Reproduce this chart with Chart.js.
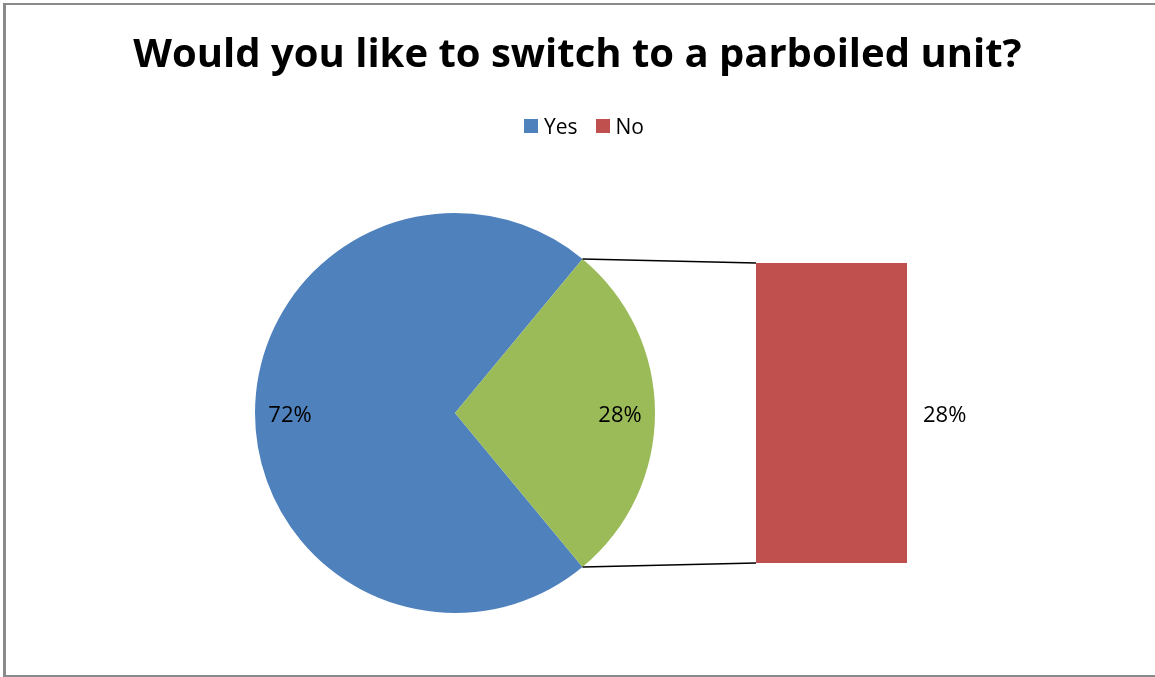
<!DOCTYPE html>
<html>
<head>
<meta charset="utf-8">
<script src="https://cdn.jsdelivr.net/npm/chart.js@4/dist/chart.umd.min.js"></script>
<style>
  html, body { margin: 0; padding: 0; background: #fff; overflow: hidden; }
  #wrap { position: relative; width: 1155px; height: 677px; overflow: hidden; font-family: "Open Sans", "Liberation Sans", sans-serif; }
  #frame { position: absolute; left: 3px; top: 3px; width: 1200px; height: 670px;
           border-left: 3px solid #8a8a8a; border-top: 2px solid #8a8a8a; border-bottom: 2px solid #8a8a8a; }
  canvas { position: absolute; left: 0; top: 0; }
  #title { position: absolute; left: 0; width: 1155px; top: 24px; text-align: center;
           font-weight: 700; font-size: 40px; line-height: 56px; color: #000; }
  #legend { position: absolute; left: 0; width: 1168px; top: 112px; display: flex; justify-content: center;
            font-size: 21px; line-height: 28px; color: #000; }
  #legend .item { display: flex; align-items: center; margin: 0 9px; }
  #legend .sw { width: 14px; height: 14px; margin-right: 6px; }
</style>
</head>
<body>
<div id="wrap">
  <div id="frame"></div>
  <canvas id="pie" width="1155" height="677"></canvas>
  <canvas id="bar" width="1155" height="677"></canvas>
  <div id="title">Would you like to switch to a parboiled unit?</div>
  <div id="legend"></div>
</div>
<script>
// Survey answers: the main pie splits "Yes" from the group that is broken out in the bar.
const titleText = 'Would you like to switch to a parboiled unit?';
const pieLabels = ['Yes', 'Other'];
const pieValues = [72, 28];
const pieColors = ['#4F81BD', '#9BBB59'];
const barLabels = ['No'];
const barValues = [28];
const barColors = ['#C0504D'];
const legendLabels = ['Yes', 'No'];
const legendColors = ['#4F81BD', '#C0504D'];

const labelFont = '22px "Open Sans", "Liberation Sans", sans-serif';

// Legend built from the series names and colours
const legendEl = document.getElementById('legend');
legendLabels.forEach((name, i) => {
  const item = document.createElement('div');
  item.className = 'item';
  const sw = document.createElement('span');
  sw.className = 'sw';
  sw.style.background = legendColors[i];
  const txt = document.createElement('span');
  txt.textContent = name;
  item.appendChild(sw);
  item.appendChild(txt);
  legendEl.appendChild(item);
});

// Rotate the pie so the broken-out slice is centred on the right-hand side
const otherShare = pieValues[1] / pieValues.reduce((a, b) => a + b, 0);
const pieRotation = 90 - 360 * (1 - otherShare) - otherShare * 180;

const pieChart = new Chart(document.getElementById('pie'), {
  type: 'pie',
  data: {
    labels: pieLabels,
    datasets: [{ data: pieValues, backgroundColor: pieColors, borderWidth: 0 }]
  },
  options: {
    responsive: false,
    animation: false,
    devicePixelRatio: 1,
    rotation: pieRotation,
    layout: { padding: { left: 255, right: 500, top: 213, bottom: 64 } },
    plugins: { legend: { display: false }, tooltip: { enabled: false }, title: { display: false } }
  }
});

// Connector lines between the pie slice and the bar, plus the percentage labels
const overlay = {
  id: 'overlay',
  afterDatasetsDraw(chart) {
    const ctx = chart.ctx;
    const arcs = pieChart.getDatasetMeta(0).data;
    const bar = chart.getDatasetMeta(0).data[0];
    const other = arcs[1];
    const barLeft = bar.x - bar.width / 2;
    const barRight = bar.x + bar.width / 2;

    ctx.save();
    ctx.strokeStyle = '#000';
    ctx.lineWidth = 1.5;
    ctx.beginPath();
    ctx.moveTo(other.x + other.outerRadius * Math.cos(other.startAngle), other.y + other.outerRadius * Math.sin(other.startAngle));
    ctx.lineTo(barLeft, bar.y);
    ctx.moveTo(other.x + other.outerRadius * Math.cos(other.endAngle), other.y + other.outerRadius * Math.sin(other.endAngle));
    ctx.lineTo(barLeft, bar.base);
    ctx.stroke();

    ctx.fillStyle = '#000';
    ctx.font = labelFont;
    ctx.textBaseline = 'middle';
    ctx.textAlign = 'center';
    arcs.forEach((arc, i) => {
      const mid = (arc.startAngle + arc.endAngle) / 2;
      const r = arc.outerRadius * 0.825;
      ctx.fillText(pieValues[i] + '%', arc.x + r * Math.cos(mid), arc.y + r * Math.sin(mid) + 3);
    });
    ctx.textAlign = 'left';
    ctx.fillText(barValues[0] + '%', barRight + 16, (bar.y + bar.base) / 2 + 3);
    ctx.restore();
  }
};

new Chart(document.getElementById('bar'), {
  type: 'bar',
  data: {
    labels: barLabels,
    datasets: [{ data: barValues, backgroundColor: barColors, borderWidth: 0,
                 barPercentage: 1, categoryPercentage: 1 }]
  },
  options: {
    responsive: false,
    animation: false,
    devicePixelRatio: 1,
    layout: { padding: { left: 756, right: 248, top: 263, bottom: 114 } },
    scales: {
      x: { display: false },
      y: { display: false, min: 0, max: barValues[0] }
    },
    plugins: { legend: { display: false }, tooltip: { enabled: false }, title: { display: false } }
  },
  plugins: [overlay]
});
</script>
</body>
</html>
